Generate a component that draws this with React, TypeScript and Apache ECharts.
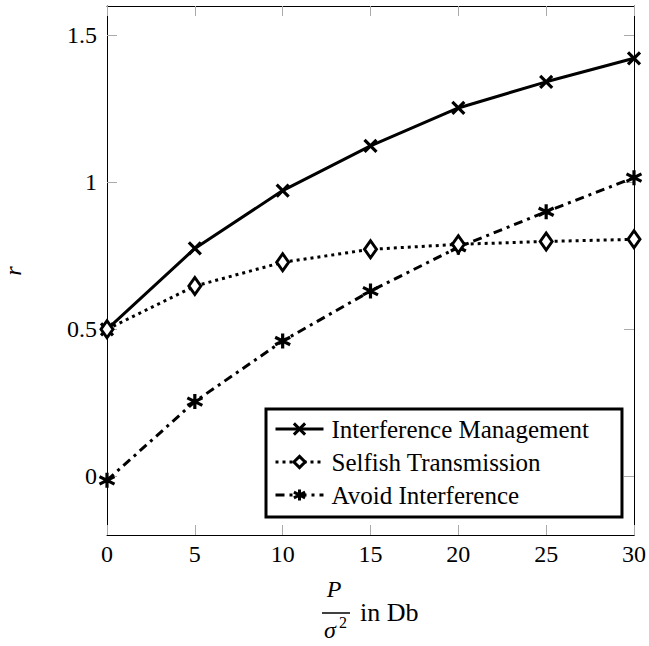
import React, { useEffect, useRef } from "react";
import * as echarts from "echarts";

const xValues = [0, 5, 10, 15, 20, 25, 30];
const interferenceManagement = [0.5, 0.775, 0.972, 1.124, 1.253, 1.342, 1.422];
const selfishTransmission = [0.5, 0.647, 0.728, 0.772, 0.789, 0.799, 0.806];
const avoidInterference = [-0.014, 0.254, 0.46, 0.63, 0.779, 0.9, 1.016];
const yTickValues = [0, 0.5, 1, 1.5];
const xTickValues = [0, 5, 10, 15, 20, 25, 30];

const FONT = "Liberation Serif";

const crossPath = "path://M0 0 L10 10 M10 0 L0 10";
const diamondPath = "path://M5 0 L10 7 L5 14 L0 7 Z";
const starPath = "path://M0 -1 L0 1 M0.866 -0.5 L-0.866 0.5 M0.866 0.5 L-0.866 -0.5";

export default function App() {
  const ref = useRef<HTMLDivElement>(null);
  useEffect(() => {
    document.body.style.margin = "0";
    if (!ref.current) return;
    const chart = echarts.init(ref.current, null, { renderer: "svg" });
    const pair = (ys: number[]) => xValues.map((x, i) => [x, ys[i]]);
    const tickStyle = { show: true, inside: true, length: 10, lineStyle: { color: "#aaa", width: 1 } };
    const axisLineStyle = { show: true, onZero: false, lineStyle: { color: "#000", width: 1 } };
    chart.setOption({
      animation: false,
      backgroundColor: "#fff",
      grid: { left: 107, top: 6, right: 13, bottom: 111, containLabel: false },
      xAxis: [
        {
          type: "value",
          min: 0,
          max: 30,
          axisLine: axisLineStyle,
          axisTick: { ...tickStyle, customValues: xTickValues },
          splitLine: { show: false },
          axisLabel: {
            customValues: xTickValues,
            color: "#000",
            fontFamily: FONT,
            fontSize: 24,
            margin: 7,
          },
        },
        {
          type: "value",
          position: "top",
          min: 0,
          max: 30,
          axisLine: axisLineStyle,
          axisTick: { ...tickStyle, customValues: xTickValues },
          splitLine: { show: false },
          axisLabel: { show: false },
        },
      ],
      yAxis: [
        {
          type: "value",
          min: -0.2,
          max: 1.6,
          axisLine: axisLineStyle,
          axisTick: { ...tickStyle, customValues: yTickValues },
          splitLine: { show: false },
          axisLabel: {
            customValues: yTickValues,
            color: "#000",
            fontFamily: FONT,
            fontSize: 24,
            margin: 10,
          },
        },
        {
          type: "value",
          position: "right",
          min: -0.2,
          max: 1.6,
          axisLine: axisLineStyle,
          axisTick: { ...tickStyle, customValues: yTickValues },
          splitLine: { show: false },
          axisLabel: { show: false },
        },
      ],
      legend: {
        orient: "vertical",
        left: 266,
        top: 409,
        borderColor: "#000",
        borderWidth: 3,
        padding: [6, 33, 8, 8],
        itemWidth: 48,
        itemHeight: 14,
        itemGap: 5,
        lineStyle: { width: 3 },
        itemStyle: { borderWidth: 3 },
        textStyle: { fontFamily: FONT, fontSize: 25, color: "#000", lineHeight: 28, padding: [0, 0, 0, 3] },
        data: ["Interference Management", "Selfish Transmission", "Avoid Interference"],
      },
      series: [
        {
          name: "Interference Management",
          type: "line",
          data: pair(interferenceManagement),
          symbol: crossPath,
          symbolSize: 12,
          lineStyle: { color: "#000", width: 3, type: "solid" },
          itemStyle: { color: "#000", borderColor: "#000", borderWidth: 3.2 },
          z: 3,
        },
        {
          name: "Selfish Transmission",
          type: "line",
          data: pair(selfishTransmission),
          symbol: diamondPath,
          symbolSize: [12, 17],
          lineStyle: { color: "#000", width: 3, type: [3, 4] },
          itemStyle: { color: "#fff", borderColor: "#000", borderWidth: 3 },
          z: 4,
        },
        {
          name: "Avoid Interference",
          type: "line",
          data: pair(avoidInterference),
          symbol: starPath,
          symbolSize: 15,
          lineStyle: { color: "#000", width: 3, type: [9, 5, 3, 5] },
          itemStyle: { color: "#000", borderColor: "#000", borderWidth: 3.2 },
          z: 2,
        },
      ],
      graphic: [
        {
          type: "text",
          x: 13,
          y: 271,
          rotation: Math.PI / 2,
          style: {
            text: "r",
            fontFamily: FONT,
            fontStyle: "italic",
            fontSize: 24,
            fill: "#000",
            align: "center",
            verticalAlign: "middle",
          },
        },
        {
          type: "text",
          x: 334,
          y: 589,
          style: {
            text: "P",
            fontFamily: FONT,
            fontStyle: "italic",
            fontSize: 24,
            fill: "#000",
            align: "center",
            verticalAlign: "middle",
          },
        },
        {
          type: "line",
          shape: { x1: 322, y1: 613, x2: 350, y2: 613 },
          style: { stroke: "#000", lineWidth: 1.5 },
        },
        {
          type: "text",
          x: 330,
          y: 630,
          style: {
            text: "σ",
            fontFamily: FONT,
            fontStyle: "italic",
            fontSize: 24,
            fill: "#000",
            align: "center",
            verticalAlign: "middle",
          },
        },
        {
          type: "text",
          x: 343,
          y: 622,
          style: {
            text: "2",
            fontFamily: FONT,
            fontSize: 16,
            fill: "#000",
            align: "center",
            verticalAlign: "middle",
          },
        },
        {
          type: "text",
          x: 360,
          y: 612,
          style: {
            text: "in Db",
            fontFamily: FONT,
            fontSize: 26,
            fill: "#000",
            align: "left",
            verticalAlign: "middle",
          },
        },
      ],
    });
    return () => chart.dispose();
  }, []);
  return <div ref={ref} style={{ width: 649, height: 646 }} />;
}
